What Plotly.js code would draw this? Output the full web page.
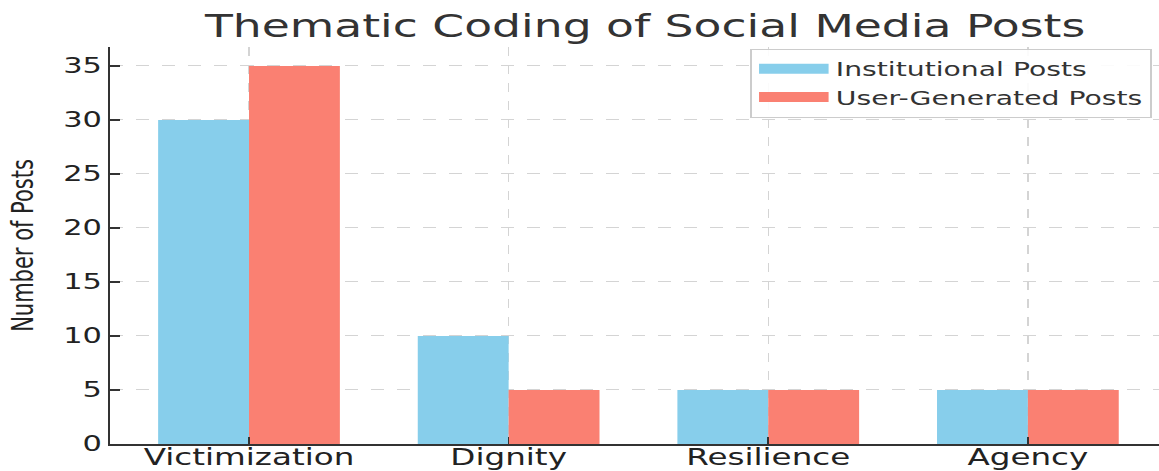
<!DOCTYPE html>
<html>
<head>
<meta charset="utf-8">
<script src="https://cdn.plot.ly/plotly-3.0.1.min.js"></script>
<style>
  html, body { margin: 0; padding: 0; background: #fff; overflow: hidden; }
  #wrap { width: 1159px; height: 471px; overflow: hidden; }
  #chart { width: 800px; height: 471px; transform: scaleX(1.44875); transform-origin: 0 0; }
</style>
</head>
<body>
<div id="wrap"><div id="chart"></div></div>
<script>
// ---- data ----
const categories = ["Victimization", "Dignity", "Resilience", "Agency"];
const institutionalPosts = [30, 10, 5, 5];
const userGeneratedPosts = [35, 5, 5, 5];
const seriesNames = ["Institutional Posts", "User-Generated Posts"];
const yTickValues = [0, 5, 10, 15, 20, 25, 30, 35];

const FONT = "DejaVu Sans, sans-serif";
const colInst = "#87CEEB";
const colUser = "#FA8072";

const traces = [
  { type: "bar", x: categories, y: institutionalPosts, name: seriesNames[0],
    marker: { color: colInst, line: { width: 0 } }, showlegend: false, hoverinfo: "skip" },
  { type: "bar", x: categories, y: userGeneratedPosts, name: seriesNames[1],
    marker: { color: colUser, line: { width: 0 } }, showlegend: false, hoverinfo: "skip" },
  // legend-only entries (wide swatches like the reference)
  { type: "scatter", mode: "lines", x: [null], y: [null], name: seriesNames[0],
    line: { color: colInst, width: 12 }, showlegend: true, hoverinfo: "skip" },
  { type: "scatter", mode: "lines", x: [null], y: [null], name: seriesNames[1],
    line: { color: colUser, width: 12 }, showlegend: true, hoverinfo: "skip" }
];

const layout = {
  width: 800, height: 471,
  margin: { l: 76, r: 0, t: 47, b: 27, pad: 0 },
  paper_bgcolor: "#fff", plot_bgcolor: "#fff",
  font: { family: FONT, color: "#222" },
  barmode: "group", bargap: 0.3, bargroupgap: 0,
  title: {
    text: "Thematic Coding of Social Media Posts",
    font: { family: FONT, size: 31.5, color: "#333" },
    xref: "paper", x: 0.51, xanchor: "center",
    yref: "container", y: 1 - 26 / 471, yanchor: "middle"
  },
  xaxis: {
    type: "category", categoryorder: "array", categoryarray: categories,
    range: [-0.535, 3.505], autorange: false,
    showline: true, linecolor: "#333", linewidth: 1.5,
    ticks: "inside", ticklen: 7, tickwidth: 1.2, tickcolor: "#333",
    tickfont: { family: FONT, size: 22.5, color: "#222" },
    ticklabelstandoff: -7,
    showgrid: true, gridcolor: "#d4d4d4", griddash: "dash", gridwidth: 1,
    zeroline: false, fixedrange: true
  },
  yaxis: {
    range: [0, 36.75], autorange: false,
    tickvals: yTickValues, ticktext: yTickValues.map(String),
    showline: true, linecolor: "#333", linewidth: 1.5,
    ticks: "inside", ticklen: 7, tickwidth: 1.2, tickcolor: "#333",
    tickfont: { family: FONT, size: 21, color: "#222" },
    showgrid: true, gridcolor: "#d4d4d4", griddash: "dash", gridwidth: 1,
    zeroline: false, fixedrange: true,
    title: { text: "Number of Posts", font: { family: FONT, size: 21, color: "#222" }, standoff: 14 }
  },
  legend: {
    x: 0.993, xanchor: "right", y: 0.996, yanchor: "top",
    bgcolor: "rgba(255,255,255,0.9)", bordercolor: "#cccccc", borderwidth: 1,
    font: { family: FONT, size: 19.5, color: "#333" },
    tracegroupgap: 0, itemwidth: 48
  },
  showlegend: true
};

Plotly.newPlot("chart", traces, layout, { displayModeBar: false, staticPlot: true, responsive: false });
</script>
</body>
</html>
